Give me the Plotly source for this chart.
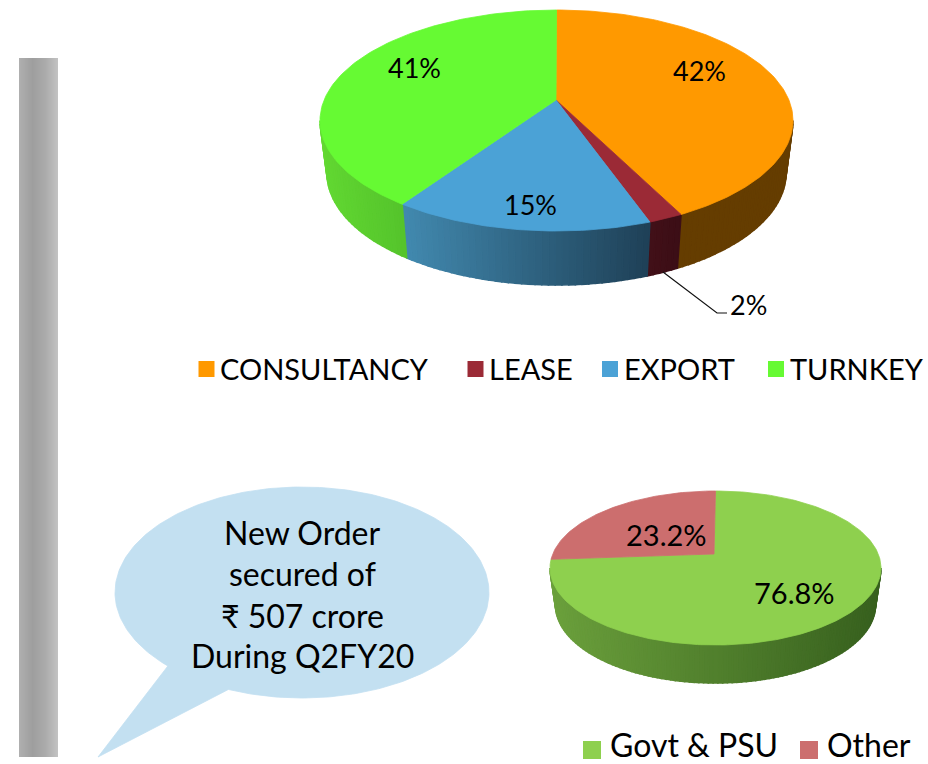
import math
import plotly.graph_objects as go

# ---- data ----
sales_labels = ["CONSULTANCY", "LEASE", "EXPORT", "TURNKEY"]
sales_values = [42, 2, 15, 41]
order_labels = ["Govt & PSU", "Other"]
order_values = [76.8, 23.2]
callout_lines = ["New Order", "secured of", "₹ 507 crore", "During Q2FY20"]

FONT = "Lato"
TOP_COLORS = ["#FF9900", "#9B2A36", "#4BA2D6", "#66FA33"]
# side gradient stops (left -> right on the screen)
TOP_SIDES = [("#653D00", "#653D00"), ("#421018", "#3C0E16"),
             ("#428AB0", "#1F4158"), ("#62D832", "#55C42C")]
ORD_COLORS = ["#8ED04E", "#CC6E6E"]
ORD_SIDES = [("#6BA03C", "#37601E"), ("#7A4040", "#7A4040")]
BAR_STOPS = [(0, "#AFAFAF"), (0.35, "#9E9E9E"), (0.7, "#ACACAC"), (1, "#C2C2C2")]


def hex2rgb(h):
    return tuple(int(h[i:i + 2], 16) for i in (1, 3, 5))


def mix(a, b, f):
    f = min(1, max(0, f))
    ca, cb = hex2rgb(a), hex2rgb(b)
    return "rgb(%d,%d,%d)" % tuple(round(ca[i] + (cb[i] - ca[i]) * f) for i in range(3))


def warp(theta, k, skew):
    """Perspective: turn a pie angle into the parameter on the drawn ellipse."""
    z = complex(math.cos(theta), math.sin(theta))
    v = (z + k) / (1 + k * z)
    return (math.atan2(v.imag, v.real) + skew * math.sin(theta / 2) ** 2) % (2 * math.pi)


def frange(a, b, step):
    n = max(2, int(abs(b - a) / step) + 2)
    return [a + (b - a) * i / (n - 1) for i in range(n)]


def poly(fig, xs, ys, color, width=0.8):
    fig.add_trace(go.Scatter(
        x=xs, y=ys, mode="lines", fill="toself", fillcolor=color,
        line=dict(color=color, width=width),
        hoverinfo="skip", showlegend=False))


def pie3d(fig, values, colors, sides, g):
    total = sum(values)
    cx, cy, rx, ry = g["top"]
    bx, by, brx, bry = g["bot"]
    ax, ay = g["apex"]
    k, skew = g["k"], g["skew"]

    def up(t):
        return cx + rx * math.sin(t), cy - ry * math.cos(t)

    def lo(t):
        return bx + brx * math.sin(t), by - bry * math.cos(t)

    acc = 0.0
    spans = []
    for v in values:
        t0 = warp(acc / total * 2 * math.pi, k, skew) if acc > 0 else 0.0
        acc += v
        t1 = warp(acc / total * 2 * math.pi, k, skew) if acc < total else 2 * math.pi
        spans.append((t0, t1))

    # side wall (only the front half can be seen)
    for (t0, t1), (cl, cr) in zip(spans, sides):
        a, b = max(t0, math.pi / 2), min(t1, 3 * math.pi / 2)
        if b <= a:
            continue
        ts = frange(a, b, 0.03)
        xa, xb = up(a)[0], up(b)[0]
        for p, q in zip(ts[:-1], ts[1:]):
            u0, u1, l0, l1 = up(p), up(q), lo(p), lo(q)
            f = (u0[0] - min(xa, xb)) / max(1, abs(xa - xb))
            poly(fig, [u0[0], u1[0], l1[0], l0[0], u0[0]],
                 [u0[1], u1[1], l1[1], l0[1], u0[1]], mix(cl, cr, f), 1.6)

    # top face
    for (t0, t1), c in zip(spans, colors):
        pts = [up(t) for t in frange(t0, t1, 0.02)]
        poly(fig, [ax] + [p[0] for p in pts] + [ax], [ay] + [p[1] for p in pts] + [ay], c)


fig = go.Figure()

# gray bar on the left
shapes = []
BAR_X0, BAR_X1, BAR_Y0, BAR_Y1 = 19, 58, 58, 757
for px in range(BAR_X0, BAR_X1):
    f = (px - BAR_X0) / (BAR_X1 - BAR_X0 - 1)
    for (s0, c0), (s1, c1) in zip(BAR_STOPS[:-1], BAR_STOPS[1:]):
        if s0 <= f <= s1:
            col = mix(c0, c1, (f - s0) / (s1 - s0))
            break
    shapes.append(dict(type="rect", x0=px, x1=px + 1, y0=BAR_Y0, y1=BAR_Y1,
                       fillcolor=col, line=dict(width=0), layer="below"))

# pies
pie3d(fig, sales_values, TOP_COLORS, TOP_SIDES,
      dict(top=(556.5, 120.5, 236.5, 110.5), bot=(556.5, 173, 229.5, 112),
           apex=(556, 100), k=0.09, skew=0.045))
pie3d(fig, order_values, ORD_COLORS, ORD_SIDES,
      dict(top=(715.5, 568, 165.5, 77), bot=(715.5, 605, 160, 78),
           apex=(714, 554), k=0.0, skew=0.0))

# leader line for the 2% slice
fig.add_trace(go.Scatter(x=[663, 717, 727], y=[272, 313, 313], mode="lines",
                         line=dict(color="#111111", width=1.2),
                         hoverinfo="skip", showlegend=False))

# speech bubble
CX, CY, RX, RY = 302, 592.5, 187, 105.5
start = math.atan2((690 - CY) / RY, (228 - CX) / RX)
end = math.atan2((667 - CY) / RY, (166 - CX) / RX)
if end > start:
    end -= 2 * math.pi
arc = frange(start, end, 0.02)
bx = [CX + RX * math.cos(a) for a in arc] + [98]
by = [CY + RY * math.sin(a) for a in arc] + [757]
poly(fig, bx + bx[:1], by + by[:1], "#C3E0F1")


def text(x, y, s, size, anchor="center"):
    fig.add_annotation(x=x, y=y, text=s, showarrow=False, xanchor=anchor, yanchor="middle",
                       font=dict(family=FONT, size=size, color="#000000"))


for (x, y), v in zip([(699, 70), (748, 304), (530, 204), (414, 67)], sales_values):
    text(x, y, f"{v:.0f}%", 27)
for (x, y), v in zip([(794, 592), (666, 534)], order_values):
    text(x, y, f"{v:.1f}%", 29)
for y, s in zip([532, 573, 615, 655], callout_lines):
    text(302, y, s, 32)

# legends
for sx, tx, lab, c in zip([206.5, 475.5, 610, 776], [218, 487, 622, 788], sales_labels, TOP_COLORS):
    fig.add_trace(go.Scatter(x=[sx], y=[369], mode="markers", hoverinfo="skip", showlegend=False,
                             marker=dict(symbol="square", size=16, color=c)))
    text(tx, 368, lab, 29, "left")
for sx, tx, lab, c in zip([592, 809], [608, 825], order_labels, ORD_COLORS):
    fig.add_trace(go.Scatter(x=[sx], y=[750], mode="markers", hoverinfo="skip", showlegend=False,
                             marker=dict(symbol="square", size=18, color=c)))
    text(tx, 744, lab, 32, "left")

fig.update_layout(
    width=928, height=764, margin=dict(l=0, r=0, t=0, b=0), showlegend=False,
    paper_bgcolor="white", plot_bgcolor="white", shapes=shapes,
    xaxis=dict(range=[0, 928], visible=False, fixedrange=True),
    yaxis=dict(range=[764, 0], visible=False, fixedrange=True),
)
fig.write_html("out.html", config=dict(displayModeBar=False),
               post_script="document.body.style.margin='0';document.documentElement.style.overflow='hidden';")
